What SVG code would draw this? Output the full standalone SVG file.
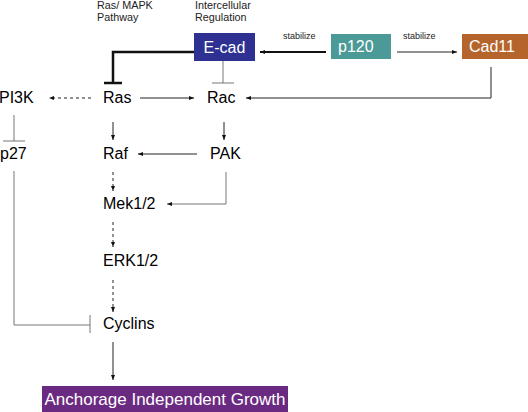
<svg xmlns="http://www.w3.org/2000/svg" width="528" height="412" viewBox="0 0 528 412">
<defs>
<style>
.t{font-family:"Liberation Sans",Arial,sans-serif;font-size:16px;fill:#000}
.s{font-family:"Liberation Sans",Arial,sans-serif;font-size:10.8px;fill:#222}
.st{font-family:"Liberation Sans",Arial,sans-serif;font-size:9px;fill:#222}
.w{font-family:"Liberation Sans",Arial,sans-serif;font-size:16px;fill:#fff}
.a{fill:none;stroke:#222;stroke-width:1}
.d{fill:none;stroke:#222;stroke-width:1;stroke-dasharray:3,3}
.g{fill:none;stroke:#777;stroke-width:1}
</style>
<marker id="ah" viewBox="0 0 10 10" refX="10" refY="5" markerWidth="6" markerHeight="5" markerUnits="userSpaceOnUse" orient="auto">
<path d="M0,1 L10,5 L0,9 Z" fill="#111"/>
</marker>
</defs>
<rect width="528" height="412" fill="#fff"/>
<text class="s" x="97" y="9">Ras/ MAPK</text>
<text class="s" x="97" y="21">Pathway</text>
<text class="s" x="195" y="9">Intercellular</text>
<text class="s" x="195" y="21">Regulation</text>
<text class="st" x="283" y="39">stabilize</text>
<text class="st" x="403" y="39">stabilize</text>
<g id="connectors">
<path d="M326,52 H260" fill="none" stroke="#111" stroke-width="2.2" marker-end="url(#ah)"/>
<path class="a" d="M397,52 H457" marker-end="url(#ah)"/>
<path d="M194,52 H113 V83" fill="none" stroke="#111" stroke-width="2.5"/>
<path d="M104,83 H122" fill="none" stroke="#111" stroke-width="2.5"/>
<path class="g" d="M223,61 V83 M212,83 H234"/>
<path class="a" d="M491,67 V98 H246" marker-end="url(#ah)"/>
<path class="d" d="M91,98 H49" marker-end="url(#ah)"/>
<path class="a" d="M140,98 H194" marker-end="url(#ah)"/>
<path class="g" d="M14,115 V141 M3,141 H25"/>
<path class="a" d="M113,122 V140" marker-end="url(#ah)"/>
<path class="a" d="M224,122 V140" marker-end="url(#ah)"/>
<path class="a" d="M197,154 H138" marker-end="url(#ah)"/>
<path class="d" d="M113,172 V191" marker-end="url(#ah)"/>
<path class="g" d="M226,172 V204 H167" marker-end="url(#ah)"/>
<path class="d" d="M113,222 V247" marker-end="url(#ah)"/>
<path class="d" d="M113,280 V312" marker-end="url(#ah)"/>
<path class="g" d="M14,171 V325 H90 M90,315 V333"/>
<path class="a" d="M113,342 V380" marker-end="url(#ah)"/>
</g>
<g id="ecad"><rect x="194" y="33" width="61" height="28" fill="#2E3192"/><text class="w" x="224.5" y="53" text-anchor="middle">E-cad</text></g>
<g id="p120"><rect x="331" y="34" width="60" height="25" fill="#4B9A97"/><text class="w" x="338" y="52">p120</text></g>
<g id="cad11"><rect x="462" y="34" width="66" height="25" fill="#B5652C"/><text class="w" x="469" y="52" fill="#fdf3e0">Cad11</text></g>
<g id="pi3k"><text class="t" x="-1" y="103">PI3K</text></g>
<g id="ras"><text class="t" x="103" y="103">Ras</text></g>
<g id="rac"><text class="t" x="207" y="103">Rac</text></g>
<g id="p27"><text class="t" x="0" y="159">p27</text></g>
<g id="raf"><text class="t" x="103" y="159">Raf</text></g>
<g id="pak"><text class="t" x="210" y="159">PAK</text></g>
<g id="mek"><text class="t" x="103" y="209">Mek1/2</text></g>
<g id="erk"><text class="t" x="103" y="266">ERK1/2</text></g>
<g id="cyclins"><text class="t" x="103" y="329">Cyclins</text></g>
<g id="aig"><rect x="42" y="386" width="246" height="26" fill="#6B2A81"/><text class="w" x="165" y="405" text-anchor="middle" style="font-size:17px">Anchorage Independent Growth</text></g>
</svg>
